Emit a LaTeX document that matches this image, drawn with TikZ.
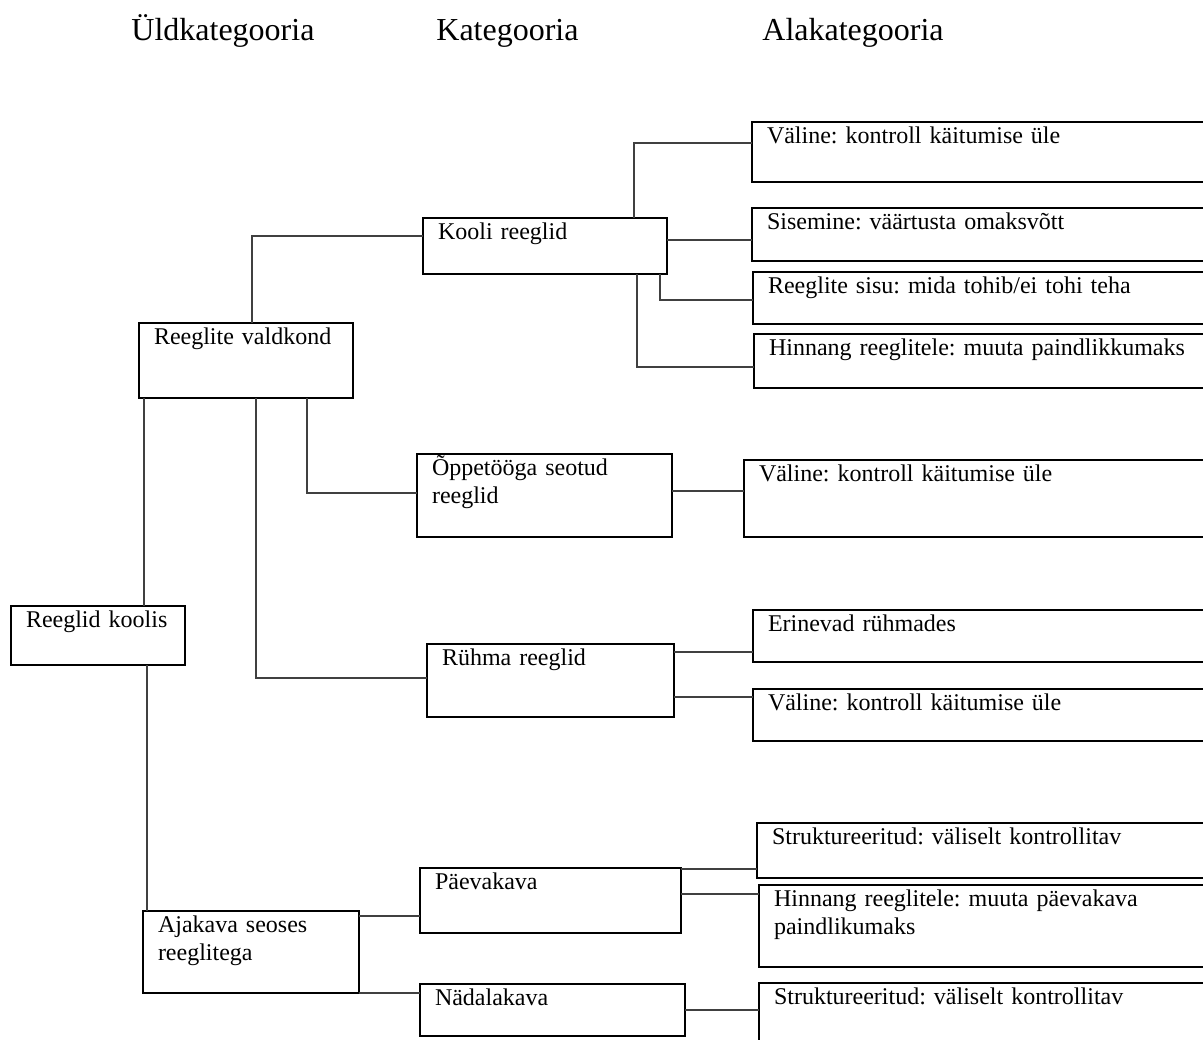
\documentclass[tikz,border=0pt]{standalone}
\usepackage{fontspec}
\setmainfont{Liberation Serif}
\frenchspacing
\tikzset{box/.style = {draw, line width=1pt, anchor=north west, align=left,
                       inner xsep=7.5pt, inner ysep=0pt, outer sep=0pt,
                       text height=10.5pt, font=\fontsize{12}{14}\selectfont}}
\tikzset{head/.style = {anchor=base west, inner sep=0, font=\fontsize{16}{19}\selectfont}}
\tikzset{conn/.style = {line width=0.6pt, black!75}}

\begin{document}
\begin{tikzpicture}[x=0.5pt, y=-0.5pt]
  \useasboundingbox (0,0) rectangle (1203,1039);
  \clip (0,0) rectangle (1203,1039);
  % column titles
  \node [head] (uld) at (131,40) {Üldkategooria};
  \node [head] (kat) at (436,40) {Kategooria};
  \node [head] (ala) at (762,40) {Alakategooria};
  % first level
  \node [box, text width=72pt, text depth=19pt] (koolis) at (11,606) {Reeglid koolis};
  \node [box, text width=92pt, text depth=27pt] (valdkond) at (139,323) {Reeglite valdkond};
  \node [box, text width=93pt, text depth=30.5pt] (ajakava) at (143,911) {Ajakava seoses\\reeglitega};
  % second level
  \node [box, text width=107pt, text depth=17.5pt] (kooli) at (423,218) {Kooli reeglid};
  \node [box, text width=112.5pt, text depth=31pt] (oppetoo) at (417,454) {Õppetööga seotud\\reeglid};
  \node [box, text width=108.5pt, text depth=26pt] (ruhma) at (427,644) {Rühma reeglid};
  \node [box, text width=115.5pt, text depth=22pt] (paevakava) at (420,868) {Päevakava};
  \node [box, text width=117.5pt, text depth=15.5pt] (nadalakava) at (420,984) {Nädalakava};
  % third level
  \node [box, text width=219pt, text depth=19.5pt] (valine1) at (752,122) {Väline: kontroll käitumise üle};
  \node [box, text width=219pt, text depth=16pt] (sisemine) at (752,208) {Sisemine: väärtusta omaksvõtt};
  \node [box, text width=218.5pt, text depth=15.5pt] (sisu) at (753,272) {Reeglite sisu: mida tohib/ei tohi teha};
  \node [box, text width=218pt, text depth=16.5pt] (hinnang1) at (754,334) {Hinnang reeglitele: muuta paindlikkumaks};
  \node [box, text width=223pt, text depth=28pt] (valine2) at (744,460) {Väline: kontroll käitumise üle};
  \node [box, text width=218.5pt, text depth=15.5pt] (erinevad) at (753,610) {Erinevad rühmades};
  \node [box, text width=218.5pt, text depth=15.5pt] (valine3) at (753,689) {Väline: kontroll käitumise üle};
  \node [box, text width=216.5pt, text depth=17pt] (strukt1) at (757,823) {Struktureeritud: väliselt kontrollitav};
  \node [box, text width=215.5pt, text depth=30.5pt] (hinnang2) at (759,885) {Hinnang reeglitele: muuta päevakava\\paindlikumaks};
  \node [box, text width=215.5pt, text depth=30pt] (strukt2) at (759,983) {Struktureeritud: väliselt kontrollitav};
  % connectors
  \draw [conn] (valdkond.north -| 252,0) |- (kooli.west |- 0,236);
  \draw [conn] (valdkond.south -| 144,0) -- (koolis.north -| 144,0);
  \draw [conn] (koolis.south -| 147,0) -- (ajakava.north -| 147,0);
  \draw [conn] (valdkond.south -| 307,0) |- (oppetoo.west |- 0,493);
  \draw [conn] (valdkond.south -| 256,0) |- (ruhma.west |- 0,678);
  \draw [conn] (kooli.north -| 634,0) |- (valine1.west |- 0,143);
  \draw [conn] (kooli.east |- 0,240) -- (sisemine.west |- 0,240);
  \draw [conn] (kooli.south -| 660,0) |- (sisu.west |- 0,300);
  \draw [conn] (kooli.south -| 637,0) |- (hinnang1.west |- 0,367);
  \draw [conn] (oppetoo.east |- 0,491) -- (valine2.west |- 0,491);
  \draw [conn] (ruhma.east |- 0,652) -- (erinevad.west |- 0,652);
  \draw [conn] (ruhma.east |- 0,697) -- (valine3.west |- 0,697);
  \draw [conn] (ajakava.east |- 0,916) -- (paevakava.west |- 0,916);
  \draw [conn] (ajakava.south east) -- (nadalakava.west |- ajakava.south east);
  \draw [conn] (paevakava.east |- 0,869) -- (strukt1.west |- 0,869);
  \draw [conn] (paevakava.east |- 0,894) -- (hinnang2.west |- 0,894);
  \draw [conn] (nadalakava.east) -- (strukt2.west |- nadalakava.east);
\end{tikzpicture}
\end{document}
